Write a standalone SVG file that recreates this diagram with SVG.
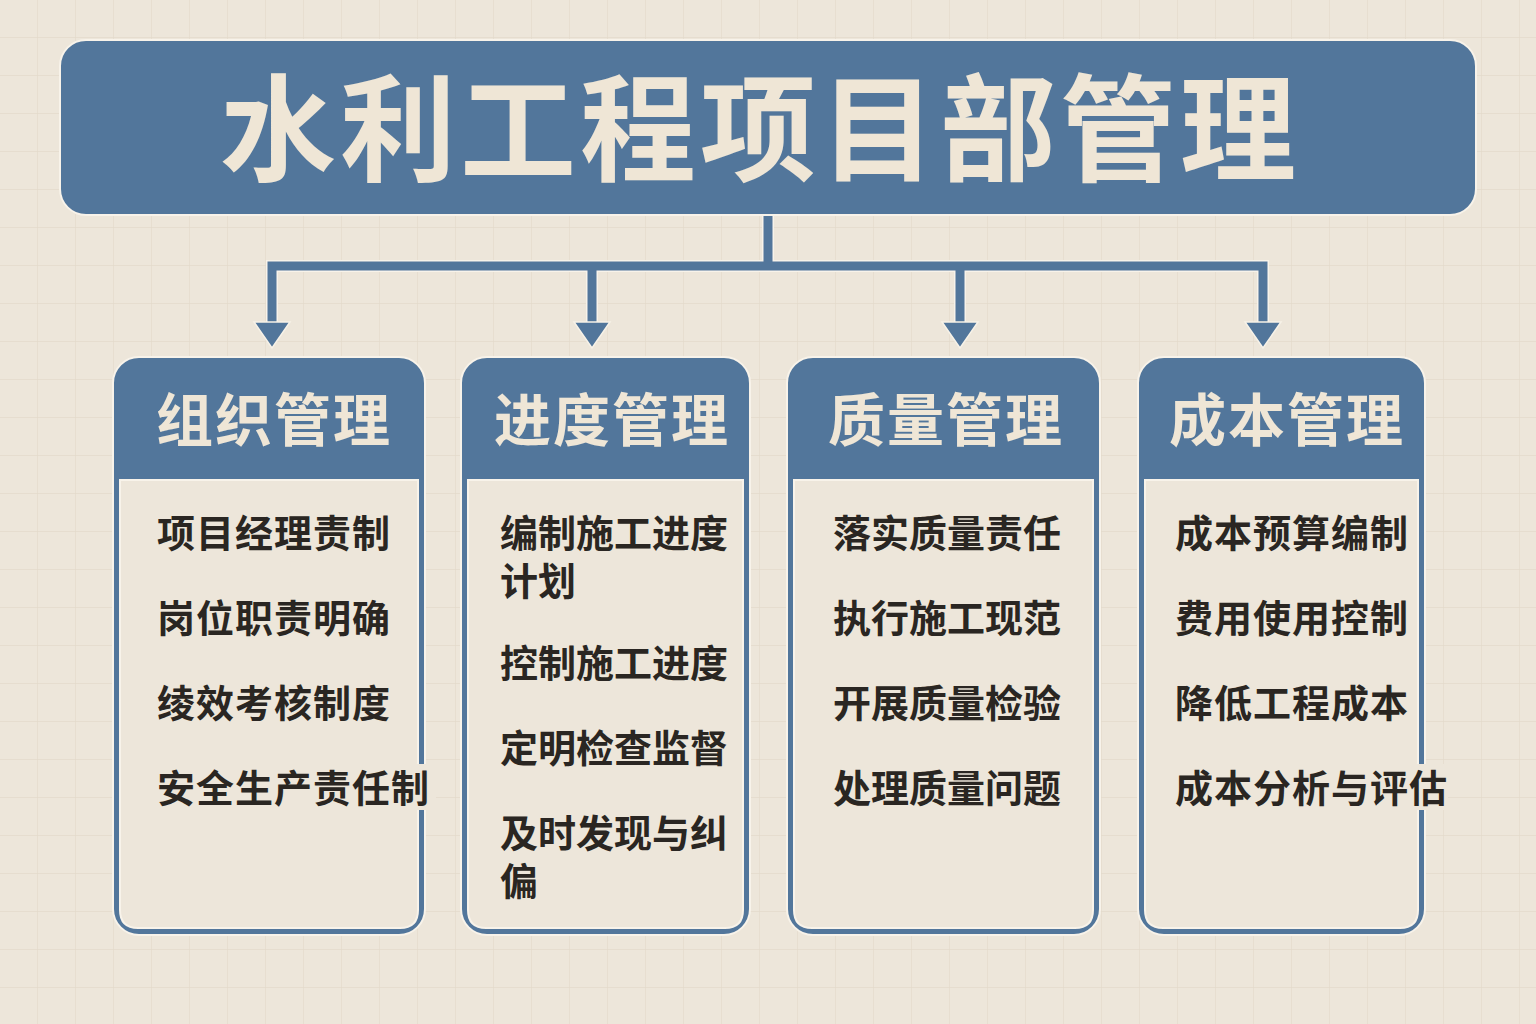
<svg xmlns="http://www.w3.org/2000/svg" width="1536" height="1024" viewBox="0 0 1536 1024">
<defs>
<pattern id="grid" width="38" height="38" patternUnits="userSpaceOnUse">
<path d="M38 0V38M0 38H38" fill="none" stroke="#e3dacb" stroke-width="1.3"/>
</pattern>
<style>
.bg{fill:#ede6da}
.blue{fill:#52769b;stroke:#f8f3ea;stroke-width:2}
.inner{fill:#ede6da;stroke:#f8f3ea;stroke-width:2}
.title{font-family:"Noto Sans CJK SC","Noto Sans",sans-serif;font-weight:700;fill:#efe6d6;text-anchor:middle}
.head{font-family:"Noto Sans CJK SC","Noto Sans",sans-serif;font-weight:700;font-size:57px;fill:#efe6d6;text-anchor:middle;letter-spacing:2px}
.item{font-family:"Noto Sans CJK SC","Noto Sans",sans-serif;font-weight:700;font-size:38px;fill:#2a2622}
.wide{letter-spacing:1px}
.conn{fill:none;stroke:#52769b;stroke-width:9;stroke-linejoin:miter}
.halo{fill:none;stroke:#f8f3ea;stroke-width:12;stroke-linejoin:miter}
.head-arrow{fill:#52769b;stroke:#f7f2e8;stroke-width:1.5}
</style>
</defs>
<rect width="1536" height="1024" class="bg"/>
<rect width="1536" height="1024" fill="url(#grid)"/>

<g id="connectors">
<path class="halo" d="M768 214V266M272 326V266H1263V326M592 266V326M960 266V326"/>
<path class="conn" d="M768 214V266M272 326V266H1263V326M592 266V326M960 266V326"/>
<path class="head-arrow" d="M254 322H290L272 348Z M574 322H610L592 348Z M942 322H978L960 348Z M1245 322H1281L1263 348Z"/>
</g>

<g id="title">
<rect x="60" y="40" width="1416" height="175" rx="26" class="blue"/>
<text x="760" y="172" class="title" font-size="116" letter-spacing="4">水利工程项目部管理</text>
</g>

<g id="box-org">
<rect x="113" y="357" width="312" height="578" rx="26" class="blue"/>
<path d="M120 480H418V910Q418 928 400 928H138Q120 928 120 910Z" class="inner"/>
<text x="274" y="441" class="head">组织管理</text>
<rect x="410" y="764" width="26" height="46" fill="#ede6da"/>
<text x="157" y="547" class="item wide">项目经理责制</text>
<text x="157" y="632" class="item wide">岗位职责明确</text>
<text x="157" y="717" class="item wide">绫效考核制度</text>
<text x="157" y="802" class="item wide">安全生产责任制</text>
</g>

<g id="box-schedule">
<rect x="461" y="357" width="289" height="578" rx="26" class="blue"/>
<path d="M468 480H743V910Q743 928 725 928H486Q468 928 468 910Z" class="inner"/>
<text x="612" y="441" class="head">进度管理</text>
<text x="500" y="547" class="item">编制施工进度</text>
<text x="500" y="595" class="item">计划</text>
<text x="500" y="677" class="item">控制施工进度</text>
<text x="500" y="762" class="item">定明检查监督</text>
<text x="500" y="847" class="item">及时发现与纠</text>
<text x="500" y="895" class="item">偏</text>
</g>

<g id="box-quality">
<rect x="787" y="357" width="313" height="578" rx="26" class="blue"/>
<path d="M794 480H1093V910Q1093 928 1075 928H812Q794 928 794 910Z" class="inner"/>
<text x="946" y="441" class="head">质量管理</text>
<text x="833" y="547" class="item">落实质量责任</text>
<text x="833" y="632" class="item">执行施工现范</text>
<text x="833" y="717" class="item">开展质量检验</text>
<text x="833" y="802" class="item">处理质量问题</text>
</g>

<g id="box-cost">
<rect x="1138" y="357" width="287" height="578" rx="26" class="blue"/>
<path d="M1145 480H1418V910Q1418 928 1400 928H1163Q1145 928 1145 910Z" class="inner"/>
<text x="1287" y="441" class="head">成本管理</text>
<rect x="1410" y="764" width="38" height="46" fill="#ede6da"/>
<text x="1175" y="547" class="item wide">成本预算编制</text>
<text x="1175" y="632" class="item wide">费用使用控制</text>
<text x="1175" y="717" class="item wide">降低工程成本</text>
<text x="1175" y="802" class="item wide">成本分析与评估</text>
</g>
</svg>
